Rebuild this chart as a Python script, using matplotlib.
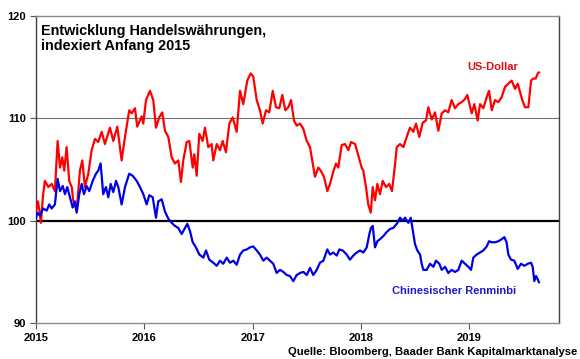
import matplotlib
matplotlib.use("Agg")
import matplotlib.pyplot as plt

plt.rcParams['font.family'] = ['Liberation Sans', 'DejaVu Sans']

# ─────────── Daten (Jahresbruchteile ab 2015) ───────────

usd_t = [0.000, 0.018, 0.032, 0.046, 0.065, 0.083, 0.114, 0.145, 0.175, 0.200,
         0.222, 0.243, 0.261, 0.283, 0.307, 0.330, 0.344, 0.376, 0.406, 0.428,
         0.452, 0.483, 0.514, 0.545, 0.575, 0.607, 0.637, 0.683, 0.714, 0.751,
         0.791, 0.822, 0.861, 0.884, 0.914, 0.935, 0.976, 0.991, 1.016, 1.053,
         1.083, 1.108, 1.138, 1.166, 1.191, 1.222, 1.253, 1.283, 1.314, 1.339,
         1.360, 1.392, 1.416, 1.447, 1.462, 1.484, 1.508, 1.539, 1.560, 1.591,
         1.622, 1.637, 1.669, 1.699, 1.724, 1.754, 1.785, 1.816, 1.853, 1.884,
         1.914, 1.951, 1.982, 2.006, 2.038, 2.068, 2.093, 2.124, 2.154, 2.186,
         2.216, 2.247, 2.274, 2.302, 2.330, 2.355, 2.382, 2.407, 2.438, 2.468,
         2.500, 2.530, 2.555, 2.576, 2.607, 2.629, 2.659, 2.690, 2.715, 2.745,
         2.770, 2.791, 2.823, 2.853, 2.884, 2.909, 2.946, 2.976, 3.007, 3.022,
         3.047, 3.068, 3.091, 3.109, 3.130, 3.152, 3.176, 3.201, 3.232, 3.262,
         3.287, 3.312, 3.331, 3.361, 3.392, 3.423, 3.453, 3.484, 3.509, 3.539,
         3.571, 3.601, 3.622, 3.654, 3.684, 3.715, 3.746, 3.777, 3.807, 3.838,
         3.869, 3.899, 3.931, 3.961, 3.982, 4.023, 4.047, 4.078, 4.100, 4.130,
         4.162, 4.183, 4.208, 4.238, 4.269, 4.300, 4.331, 4.361, 4.392, 4.423,
         4.448, 4.469, 4.490, 4.515, 4.546, 4.571, 4.592, 4.614, 4.632, 4.644]
usd = [100.8, 101.9, 101.0, 99.8, 102.5, 103.9, 103.3, 103.6, 102.9, 107.8,
       105.2, 106.2, 104.9, 107.2, 103.9, 103.3, 102.0, 101.0, 104.9, 105.9,
       103.3, 104.6, 106.9, 108.0, 107.7, 108.7, 107.5, 109.1, 107.8, 109.2,
       105.9, 108.2, 110.8, 110.5, 111.0, 109.2, 110.2, 109.5, 111.8, 112.7,
       111.8, 109.1, 110.1, 110.6, 108.8, 108.2, 106.2, 105.6, 105.9, 103.8,
       105.9, 107.7, 107.8, 105.2, 106.5, 104.4, 108.5, 107.8, 109.1, 107.2,
       107.5, 105.9, 107.5, 106.9, 107.8, 106.7, 109.5, 110.1, 108.7, 112.7,
       111.4, 113.7, 114.4, 114.1, 111.8, 110.8, 109.5, 110.8, 110.6, 112.7,
       111.1, 111.0, 112.3, 110.8, 111.1, 111.8, 109.8, 109.3, 109.5, 109.0,
       107.8, 107.2, 105.6, 104.3, 105.2, 104.9, 104.3, 102.9, 103.6, 104.8,
       105.6, 105.2, 107.4, 107.5, 106.9, 107.7, 107.5, 106.4, 105.2, 104.9,
       103.3, 101.6, 100.8, 103.3, 102.0, 103.6, 102.6, 103.9, 103.3, 103.6,
       102.9, 105.2, 107.2, 107.5, 107.2, 108.2, 109.1, 108.7, 109.5, 108.2,
       109.6, 109.8, 111.1, 109.9, 110.6, 108.8, 110.5, 110.8, 110.6, 111.8,
       111.0, 111.4, 111.6, 111.9, 112.3, 110.5, 111.4, 109.8, 111.4, 111.0,
       112.1, 112.7, 110.8, 111.8, 111.6, 112.1, 113.1, 113.4, 113.7, 112.9,
       113.4, 112.6, 111.8, 111.1, 111.1, 113.7, 113.9, 113.9, 114.4, 114.5]

cny_t = [0.000, 0.012, 0.037, 0.067, 0.099, 0.123, 0.145, 0.175, 0.200, 0.222,
         0.247, 0.268, 0.289, 0.314, 0.339, 0.360, 0.376, 0.400, 0.422, 0.443,
         0.468, 0.492, 0.524, 0.554, 0.575, 0.597, 0.621, 0.646, 0.668, 0.690,
         0.714, 0.739, 0.760, 0.791, 0.822, 0.861, 0.893, 0.930, 0.960, 0.991,
         1.022, 1.046, 1.078, 1.108, 1.129, 1.161, 1.191, 1.222, 1.253, 1.283,
         1.314, 1.345, 1.376, 1.397, 1.422, 1.447, 1.477, 1.508, 1.545, 1.570,
         1.600, 1.637, 1.669, 1.699, 1.729, 1.761, 1.791, 1.822, 1.853, 1.884,
         1.914, 1.946, 1.976, 2.006, 2.038, 2.068, 2.099, 2.130, 2.161, 2.191,
         2.222, 2.253, 2.284, 2.315, 2.345, 2.376, 2.407, 2.438, 2.468, 2.500,
         2.530, 2.560, 2.592, 2.622, 2.653, 2.690, 2.715, 2.745, 2.777, 2.801,
         2.832, 2.869, 2.899, 2.930, 2.961, 2.992, 3.022, 3.054, 3.078, 3.093,
         3.109, 3.130, 3.152, 3.176, 3.207, 3.238, 3.269, 3.299, 3.331, 3.361,
         3.386, 3.407, 3.438, 3.460, 3.484, 3.500, 3.521, 3.546, 3.561, 3.576,
         3.608, 3.638, 3.669, 3.693, 3.724, 3.746, 3.777, 3.807, 3.838, 3.869,
         3.899, 3.931, 3.961, 3.992, 4.017, 4.038, 4.069, 4.100, 4.130, 4.162,
         4.183, 4.208, 4.238, 4.269, 4.300, 4.324, 4.345, 4.361, 4.386, 4.416,
         4.448, 4.478, 4.509, 4.540, 4.571, 4.586, 4.601, 4.617, 4.632, 4.644]
cny = [100.2, 100.8, 100.5, 101.2, 101.0, 101.6, 101.2, 101.6, 104.1, 102.9,
       103.4, 102.6, 103.3, 102.3, 101.3, 101.9, 100.8, 102.6, 103.6, 102.6,
       103.4, 102.9, 103.9, 104.6, 104.9, 105.6, 102.6, 103.3, 102.3, 103.6,
       102.8, 103.9, 103.3, 101.6, 103.3, 104.6, 104.4, 103.9, 103.3, 102.6,
       101.6, 102.5, 102.3, 100.3, 101.9, 102.1, 100.9, 100.2, 99.8, 99.5,
       99.3, 98.7, 99.3, 99.7, 99.0, 97.9, 97.4, 96.7, 96.4, 97.1,
       96.2, 95.9, 95.6, 96.1, 95.8, 96.4, 95.9, 96.1, 95.7, 96.7,
       97.1, 97.2, 97.4, 97.5, 97.1, 96.7, 96.1, 96.4, 96.1, 95.8,
       94.9, 95.2, 95.0, 94.7, 94.6, 94.1, 94.7, 94.9, 95.0, 94.7,
       95.4, 94.7, 95.2, 95.9, 96.1, 97.2, 96.7, 96.9, 96.6, 97.2,
       97.1, 96.7, 96.2, 96.6, 96.9, 97.1, 96.9, 97.4, 98.7, 99.3,
       99.5, 97.4, 98.0, 98.2, 98.5, 98.9, 99.2, 99.3, 99.7, 100.3,
       100.0, 100.3, 99.8, 100.3, 98.7, 97.7, 97.1, 96.7, 95.8, 95.2,
       95.2, 95.8, 95.5, 96.1, 95.8, 95.2, 95.5, 94.9, 95.2, 95.0,
       95.2, 96.1, 95.8, 95.5, 95.2, 96.4, 96.7, 96.9, 97.1, 97.5,
       98.0, 97.9, 97.9, 98.0, 98.2, 98.4, 97.9, 96.7, 96.2, 96.1,
       95.3, 95.8, 95.6, 95.8, 95.9, 95.5, 94.1, 94.6, 94.3, 94.0]

start_year = 2015
years = [2015, 2016, 2017, 2018, 2019]
y_ticks = [90, 100, 110, 120]

RED = "#ff0000"
BLUE = "#0000e6"

# ─────────── Grafik ───────────

fig = plt.figure(figsize=(5.8, 3.59), dpi=100)
ax = fig.add_axes([0.062, 0.100, 0.902, 0.855])

ax.axhline(110, color="#707070", linewidth=0.8, zorder=1)
ax.axhline(100, color="black", linewidth=1.6, zorder=1)

ax.plot([start_year + t for t in usd_t], usd, color=RED, linewidth=1.6, zorder=3)
ax.plot([start_year + t for t in cny_t], cny, color=BLUE, linewidth=1.6, zorder=3)

ax.set_xlim(2015, 2019.83)
ax.set_ylim(90, 120)
ax.set_xticks(years)
ax.set_xticklabels([str(y) for y in years], fontweight="bold", fontsize=8)
ax.set_yticks(y_ticks)
ax.set_yticklabels([str(v) for v in y_ticks], fontweight="bold", fontsize=8)
ax.tick_params(axis="both", direction="out", length=4, width=0.8, color="#555555")
ax.tick_params(axis="x", pad=3)
ax.tick_params(axis="y", pad=3)

for side in ["left", "right"]:
    ax.spines[side].set_color("#404040")
    ax.spines[side].set_linewidth(1.0)
for side in ["top", "bottom"]:
    ax.spines[side].set_color("#8c8c8c")
    ax.spines[side].set_linewidth(1.0)

ax.text(0.010, 0.975, "Entwicklung Handelswährungen,\nindexiert Anfang 2015",
        transform=ax.transAxes, ha="left", va="top", fontsize=10.4,
        fontweight="bold", linespacing=1.1)
ax.text(2019.22, 115.0, "US-Dollar", color="#e01010", fontsize=8,
        fontweight="bold", ha="center", va="center")
ax.text(2018.86, 93.1, "Chinesischer Renminbi", color="#1a1acc", fontsize=8,
        fontweight="bold", ha="center", va="center")

fig.text(0.995, 0.005, "Quelle: Bloomberg, Baader Bank Kapitalmarktanalyse",
         ha="right", va="bottom", fontsize=8.1, fontweight="bold")

fig.savefig("out.png", dpi=100)
